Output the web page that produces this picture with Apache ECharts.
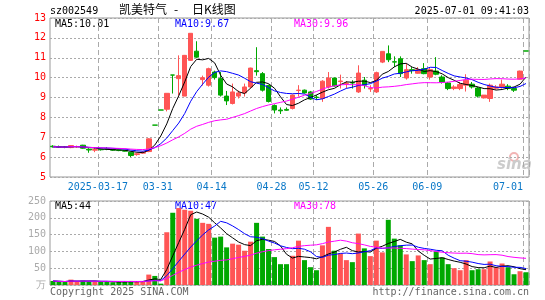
<!DOCTYPE html>
<html>
<head>
<meta charset="utf-8">
<script src="https://cdn.jsdelivr.net/npm/echarts/dist/echarts.min.js"></script>
<style>
  html, body { margin: 0; padding: 0; background: #fff; }
  #main { width: 545px; height: 300px; }
</style>
</head>
<body>
<div id="main"></div>
<script>
// trading days shown, 2025-03-05 .. 2025-07-01
var dates = [
  '2025-03-05','2025-03-06','2025-03-07','2025-03-10','2025-03-11','2025-03-12','2025-03-13','2025-03-14',
  '2025-03-17','2025-03-18','2025-03-19','2025-03-20','2025-03-21','2025-03-24','2025-03-25','2025-03-26',
  '2025-03-27','2025-03-28','2025-03-31','2025-04-01','2025-04-02','2025-04-03','2025-04-07','2025-04-08',
  '2025-04-09','2025-04-10','2025-04-11','2025-04-14','2025-04-15','2025-04-16','2025-04-17','2025-04-18',
  '2025-04-21','2025-04-22','2025-04-23','2025-04-24','2025-04-25','2025-04-28','2025-04-29','2025-04-30',
  '2025-05-06','2025-05-07','2025-05-08','2025-05-09','2025-05-12','2025-05-13','2025-05-14','2025-05-15',
  '2025-05-16','2025-05-19','2025-05-20','2025-05-21','2025-05-22','2025-05-23','2025-05-26','2025-05-27',
  '2025-05-28','2025-05-29','2025-05-30','2025-06-03','2025-06-04','2025-06-05','2025-06-06','2025-06-09',
  '2025-06-10','2025-06-11','2025-06-12','2025-06-13','2025-06-16','2025-06-17','2025-06-18','2025-06-19',
  '2025-06-20','2025-06-23','2025-06-24','2025-06-25','2025-06-26','2025-06-27','2025-06-30','2025-07-01'
];

var opens = [
  6.55, 6.53, 6.52, 6.48, 6.52, 6.60, 6.40, 6.35, 6.40, 6.42,
  6.38, 6.35, 6.33, 6.25, 6.13, 6.20, 6.28, 7.61, 8.37, 8.41,
  10.13, 9.95, 9.07, 10.87, 11.33, 9.90, 9.62, 10.28, 9.95, 9.07,
  8.70, 9.07, 9.23, 9.53, 10.35, 10.20, 9.60, 8.60, 8.37, 8.40,
  8.45, 9.35, 9.37, 9.28, 9.02, 8.95, 9.53, 9.98, 9.80, 9.70,
  9.75, 9.28, 9.87, 9.43, 9.28, 10.78, 11.20, 10.80, 10.95, 9.98,
  10.40, 10.22, 10.45, 10.03, 10.33, 10.03, 9.73, 9.45, 9.45, 9.62,
  9.67, 9.48, 8.98, 8.95, 9.47, 9.53, 9.57, 9.45, 9.92, 11.34
];
var closes = [
  6.52, 6.50, 6.50, 6.58, 6.53, 6.45, 6.36, 6.38, 6.37, 6.40,
  6.35, 6.33, 6.30, 6.08, 6.17, 6.25, 6.92, 7.61, 8.37, 9.21,
  10.13, 10.10, 11.12, 12.23, 11.03, 10.00, 10.45, 10.00, 9.12, 8.83,
  9.28, 9.23, 9.53, 10.48, 10.30, 9.37, 8.80, 8.37, 8.33, 8.36,
  9.12, 9.37, 9.23, 8.92, 9.00, 9.82, 9.98, 9.58, 9.83, 9.72,
  9.73, 10.23, 9.62, 9.45, 10.25, 11.32, 10.90, 10.78, 10.20, 10.40,
  10.35, 10.40, 10.20, 10.40, 10.17, 9.78, 9.45, 9.53, 9.65, 9.87,
  9.53, 9.07, 9.12, 9.62, 9.53, 9.67, 9.45, 9.37, 10.33, 11.34
];
var lows = [
  6.48, 6.46, 6.45, 6.45, 6.47, 6.42, 6.22, 6.25, 6.33, 6.35,
  6.32, 6.30, 6.28, 6.00, 6.07, 6.18, 6.25, 7.61, 8.37, 8.30,
  9.20, 9.10, 9.07, 10.85, 10.98, 9.60, 9.55, 9.90, 9.05, 8.62,
  8.65, 8.95, 9.05, 9.45, 10.10, 9.30, 8.75, 8.20, 8.17, 8.33,
  8.40, 9.05, 9.20, 8.88, 8.88, 8.78, 9.45, 9.55, 9.45, 9.45,
  9.45, 9.23, 9.45, 9.28, 9.23, 10.73, 10.78, 10.53, 10.03, 9.90,
  10.20, 10.20, 10.17, 9.90, 10.12, 9.70, 9.37, 9.37, 9.37, 9.30,
  9.45, 9.00, 8.95, 8.78, 9.40, 9.45, 9.37, 9.28, 9.90, 11.34
];
var highs = [
  6.60, 6.58, 6.56, 6.60, 6.58, 6.62, 6.45, 6.45, 6.42, 6.50,
  6.40, 6.37, 6.36, 6.27, 6.22, 6.30, 6.95, 7.61, 8.37, 9.21,
  10.13, 11.12, 11.14, 12.23, 11.83, 10.10, 10.50, 10.35, 10.28, 9.33,
  9.70, 9.35, 9.70, 10.50, 11.53, 10.28, 9.65, 8.65, 8.50, 8.50,
  9.15, 9.62, 9.40, 9.33, 9.12, 9.87, 10.28, 10.00, 10.15, 9.83,
  9.87, 10.62, 10.03, 9.62, 10.30, 11.32, 11.62, 11.07, 11.07, 10.70,
  10.53, 10.53, 10.73, 10.53, 11.03, 10.12, 9.78, 9.62, 9.78, 10.17,
  9.78, 9.53, 9.12, 9.70, 9.62, 9.90, 9.67, 9.53, 10.35, 11.34
];
// volume, 万手
var volumes = [
  12, 10, 9, 16, 10, 13, 11, 10, 9, 10,
  8, 9, 10, 12, 10, 11, 31, 27, 4, 157,
  215, 229, 224, 221, 197, 185, 182, 141, 144, 112,
  123, 120, 102, 129, 185, 144, 107, 83, 62, 62,
  87, 132, 74, 53, 44, 118, 173, 102, 94, 74,
  68, 153, 109, 86, 132, 97, 194, 138, 118, 91,
  71, 88, 74, 62, 100, 82, 62, 50, 44, 74,
  44, 47, 47, 70, 53, 64, 53, 32, 41, 38
];

// dates that get a dashed grid line and a label
var tickIdx = [8, 18, 27, 37, 44, 54, 63, 79];
var priceTicks = [5, 6, 7, 8, 9, 10, 11, 12, 13];
var volTicks = [0, 50, 100, 150, 200, 250];

var RED = '#ff5555';
var GREEN = '#00a800';
var MONO = 'DejaVu Sans Mono';

function calcMA(arr, n) {
  var out = [];
  for (var i = 0; i < arr.length; i++) {
    var start = Math.max(0, i - n + 1), sum = 0;
    for (var j = start; j <= i; j++) sum += arr[j];
    out.push(+(sum / (i - start + 1)).toFixed(3));
  }
  return out;
}

var kData = [];
var volData = [];
for (var i = 0; i < dates.length; i++) {
  kData.push([opens[i], closes[i], lows[i], highs[i]]);
  volData.push({
    value: volumes[i],
    itemStyle: { color: closes[i] > opens[i] ? RED : GREEN }
  });
}

function isTick(index) { return tickIdx.indexOf(index) >= 0; }

var gridLineV = { show: true, interval: isTick, lineStyle: { color: '#aaa', width: 1, type: [5, 3] } };
var gridLineH = { show: true, lineStyle: { color: '#aaa', width: 1, type: [2, 2] } };

var myChart = echarts.init(document.getElementById('main'));

var option = {
  animation: false,
  backgroundColor: '#fff',
  grid: [
    { left: 50, top: 18, width: 479, height: 159, show: true, borderColor: '#999', borderWidth: 1, containLabel: false, outerBoundsMode: 'none' },
    { left: 50, top: 201, width: 479, height: 84, show: true, borderColor: '#999', borderWidth: 1, containLabel: false, outerBoundsMode: 'none' }
  ],
  xAxis: [
    {
      type: 'category', gridIndex: 0, data: dates, boundaryGap: true,
      axisLine: { show: false }, axisTick: { show: false },
      axisLabel: {
        interval: isTick, margin: 5,
        formatter: function (value, index) {
          var text = index === 8 ? value : value.slice(5);
          return (index === dates.length - 1 ? '{end|' : '{mid|') + text + '}';
        },
        rich: {
          mid: { color: '#0a78c8', fontFamily: MONO, fontSize: 10, padding: [0, 6, 0, 0] },
          end: { color: '#0a78c8', fontFamily: MONO, fontSize: 10, padding: [0, 36, 0, 0] }
        }
      },
      splitLine: gridLineV
    },
    {
      type: 'category', gridIndex: 1, data: dates, boundaryGap: true,
      axisLine: { show: false }, axisTick: { show: false }, axisLabel: { show: false },
      splitLine: gridLineV
    }
  ],
  yAxis: [
    {
      type: 'value', gridIndex: 0, min: priceTicks[0], max: priceTicks[priceTicks.length - 1], interval: 1,
      axisLine: { show: false }, axisTick: { show: false },
      axisLabel: { color: '#ff0000', fontFamily: MONO, fontSize: 10, margin: 4 },
      splitLine: gridLineH
    },
    {
      type: 'value', gridIndex: 1, min: volTicks[0], max: volTicks[volTicks.length - 1], interval: 50,
      axisLine: { show: false }, axisTick: { show: false },
      axisLabel: {
        color: '#aaa', fontFamily: MONO, fontSize: 10, margin: 4,
        formatter: function (v) { return v === 0 ? '万' : v; }
      },
      splitLine: gridLineH
    }
  ],
  series: [
    {
      name: 'K', type: 'candlestick', xAxisIndex: 0, yAxisIndex: 0, data: kData, barWidth: 5,
      itemStyle: { color: RED, color0: GREEN, borderColor: RED, borderColor0: GREEN, borderColorDoji: GREEN, borderWidth: 1 }
    },
    { name: 'MA5', type: 'line', xAxisIndex: 0, yAxisIndex: 0, data: calcMA(closes, 5), showSymbol: false, lineStyle: { color: '#000', width: 1 } },
    { name: 'MA10', type: 'line', xAxisIndex: 0, yAxisIndex: 0, data: calcMA(closes, 10), showSymbol: false, lineStyle: { color: '#0000ff', width: 1 } },
    { name: 'MA30', type: 'line', xAxisIndex: 0, yAxisIndex: 0, data: calcMA(closes, 30), showSymbol: false, lineStyle: { color: '#ff00ff', width: 1 } },
    { name: 'VOL', type: 'bar', xAxisIndex: 1, yAxisIndex: 1, data: volData, barWidth: 5 },
    { name: 'VMA5', type: 'line', xAxisIndex: 1, yAxisIndex: 1, data: calcMA(volumes, 5), showSymbol: false, lineStyle: { color: '#000', width: 1 } },
    { name: 'VMA10', type: 'line', xAxisIndex: 1, yAxisIndex: 1, data: calcMA(volumes, 10), showSymbol: false, lineStyle: { color: '#0000ff', width: 1 } },
    { name: 'VMA30', type: 'line', xAxisIndex: 1, yAxisIndex: 1, data: calcMA(volumes, 30), showSymbol: false, lineStyle: { color: '#ff00ff', width: 1 } }
  ],
  graphic: [
    { type: 'text', left: 50, top: 6, style: { text: 'sz002549', fill: '#000', font: '10px "DejaVu Sans Mono"' } },
    { type: 'text', left: 119, top: 3, style: { text: '凯美特气', fill: '#000', font: '12px "Noto Sans CJK SC"' } },
    { type: 'text', left: 174, top: 3, style: { text: '-', fill: '#000', font: '12px "Noto Sans CJK SC"' } },
    { type: 'text', left: 192, top: 3, style: { text: '日K线图', fill: '#000', font: '12px "Noto Sans CJK SC"' } },
    { type: 'text', right: 16, top: 6, style: { text: '2025-07-01 09:41:03', fill: '#000', font: '10px "DejaVu Sans Mono"' } },

    { type: 'text', left: 55, top: 19, style: { text: 'MA5:10.01', fill: '#000', font: '10px "DejaVu Sans Mono"' } },
    { type: 'text', left: 175, top: 19, style: { text: 'MA10:9.67', fill: '#0000ff', font: '10px "DejaVu Sans Mono"' } },
    { type: 'text', left: 294, top: 19, style: { text: 'MA30:9.96', fill: '#ff00ff', font: '10px "DejaVu Sans Mono"' } },
    { type: 'text', left: 55, top: 201, style: { text: 'MA5:44', fill: '#000', font: '10px "DejaVu Sans Mono"' } },
    { type: 'text', left: 175, top: 201, style: { text: 'MA10:47', fill: '#0000ff', font: '10px "DejaVu Sans Mono"' } },
    { type: 'text', left: 294, top: 201, style: { text: 'MA30:78', fill: '#ff00ff', font: '10px "DejaVu Sans Mono"' } },

    // sina watermark
    { type: 'circle', shape: { cx: 514, cy: 157, r: 4 }, style: { fill: 'none', stroke: '#f2b5b5', lineWidth: 2 } },
    { type: 'text', left: 497, top: 158, style: { text: 'sina', fill: '#cccccc', font: 'italic bold 15px "DejaVu Sans"' } },

    { type: 'text', left: 50, top: 287, style: { text: 'Copyright 2025 SINA.COM', fill: '#666', font: '10px "DejaVu Sans Mono"' } },
    { type: 'text', right: 16, top: 287, style: { text: 'http://finance.sina.com.cn', fill: '#666', font: '10px "DejaVu Sans Mono"' } }
  ]
};

myChart.setOption(option);
</script>
</body>
</html>
